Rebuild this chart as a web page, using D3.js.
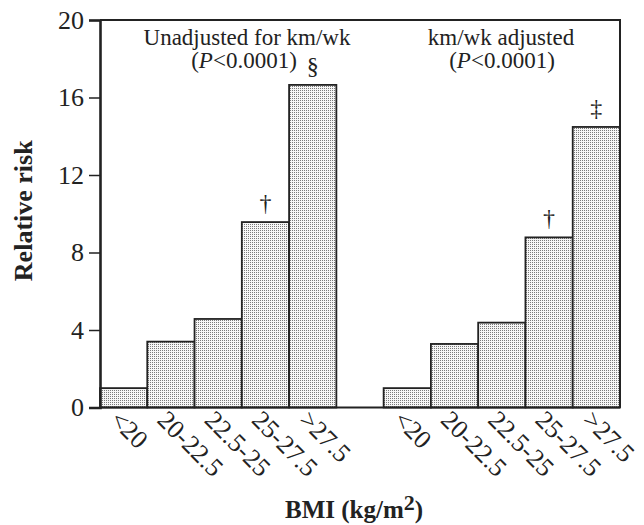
<!DOCTYPE html>
<html>
<head>
<meta charset="utf-8">
<script src="https://cdn.jsdelivr.net/npm/d3@7"></script>
<style>
  body { margin: 0; background: #fff; }
  svg text { font-family: "Liberation Serif", "Times New Roman", serif; fill: #222; }
</style>
</head>
<body>
<div id="chart"></div>
<script>
// BMI categories, shown twice (unadjusted / adjusted) with an empty slot between
const categories = ["<20", "20-22.5", "22.5-25", "25-27.5", ">27.5"];
const unadjusted = [1.0, 3.4, 4.57, 9.57, 16.65];
const adjusted = [1.0, 3.28, 4.38, 8.78, 14.48];
const unadjustedMarks = ["", "", "", "\u2020", "\u00a7"];
const adjustedMarks = ["", "", "", "\u2020", "\u2021"];
const yTicks = [0, 4, 8, 12, 16, 20];

const width = 644, height = 525;
const margin = { top: 20, right: 24, bottom: 117.5, left: 100 };

// one slot per bar plus the gap slot
const slots = [
    ...categories.map((c, i) => ({ key: "u" + i, label: c, value: unadjusted[i], mark: unadjustedMarks[i] })),
    { key: "gap", label: "", value: null, mark: "" },
    ...categories.map((c, i) => ({ key: "a" + i, label: c, value: adjusted[i], mark: adjustedMarks[i] }))
];

const svg = d3.select("#chart").append("svg")
    .attr("width", width)
    .attr("height", height);

const defs = svg.append("defs");
const pat = defs.append("pattern")
    .attr("id", "dots")
    .attr("width", 2).attr("height", 2)
    .attr("patternUnits", "userSpaceOnUse");
pat.append("rect").attr("width", 2).attr("height", 2).attr("fill", "#f6f6f6");
pat.append("rect").attr("width", 1).attr("height", 1).attr("fill", "#7a7a7a");

const x = d3.scaleBand()
    .domain(slots.map(d => d.key))
    .range([margin.left, width - margin.right])
    .padding(0);

const y = d3.scaleLinear()
    .domain([0, 20])
    .range([height - margin.bottom, margin.top]);

const bars = slots.filter(d => d.value !== null);

svg.append("g")
    .selectAll("rect")
    .data(bars)
    .enter()
    .append("rect")
    .attr("x", d => x(d.key))
    .attr("y", d => y(d.value))
    .attr("width", x.bandwidth())
    .attr("height", d => y(0) - y(d.value))
    .attr("fill", "url(#dots)")
    .attr("stroke", "#222")
    .attr("stroke-width", 1.8);

// frame: top and right
svg.append("path")
    .attr("d", `M${x.range()[0]},${y(20)}H${x.range()[1]}V${y(0)}`)
    .attr("fill", "none")
    .attr("stroke", "#222")
    .attr("stroke-width", 2);

// bottom line
svg.append("line")
    .attr("x1", x.range()[0]).attr("x2", x.range()[1])
    .attr("y1", y(0)).attr("y2", y(0))
    .attr("stroke", "#222")
    .attr("stroke-width", 2.2);

// y axis
const yAxis = svg.append("g")
    .attr("transform", `translate(${margin.left},0)`)
    .call(d3.axisLeft(y).tickValues(yTicks).tickSize(11).tickPadding(5));
yAxis.select(".domain").attr("stroke", "#222").attr("stroke-width", 2.6);
yAxis.selectAll(".tick line").attr("stroke", "#222").attr("stroke-width", 1.5);
yAxis.selectAll(".tick text")
    .attr("font-size", 26)
    .attr("font-family", "Liberation Serif, serif")
    .attr("fill", "#222");

// rotated category labels
svg.append("g")
    .selectAll("text")
    .data(bars)
    .enter()
    .append("text")
    .attr("transform", d => `translate(${x(d.key) + x.bandwidth() / 2 - 15},${y(0) + 14}) rotate(45)`)
    .attr("font-size", 26)
    .attr("text-anchor", "start")
    .text(d => d.label);

// significance marks
svg.append("g")
    .selectAll("text")
    .data(bars.filter(d => d.mark))
    .enter()
    .append("text")
    .attr("x", d => x(d.key) + x.bandwidth() / 2)
    .attr("y", d => y(d.value) - 11)
    .attr("text-anchor", "middle")
    .attr("font-size", 24)
    .attr("fill", "#111")
    .text(d => d.mark);

// group notes
const notes = [
    { cx: 247, lines: ["Unadjusted for km/wk"], px: 244 },
    { cx: 501, lines: ["km/wk adjusted"], px: 502 }
];
notes.forEach(n => {
    svg.append("text")
        .attr("x", n.cx).attr("y", 44.5)
        .attr("text-anchor", "middle")
        .attr("font-size", 23)
        .text(n.lines[0]);
    const t = svg.append("text")
        .attr("x", n.px).attr("y", 68)
        .attr("text-anchor", "middle")
        .attr("font-size", 23);
    t.append("tspan").text("(");
    t.append("tspan").attr("font-style", "italic").text("P");
    t.append("tspan").text("<0.0001)");
});

// axis titles
svg.append("text")
    .attr("transform", `translate(32,${(y(0) + y(20)) / 2 - 3}) rotate(-90)`)
    .attr("text-anchor", "middle")
    .attr("font-size", 26)
    .attr("font-weight", "bold")
    .text("Relative risk");

const xt = svg.append("text")
    .attr("x", 354).attr("y", 518)
    .attr("text-anchor", "middle")
    .attr("font-size", 25)
    .attr("font-weight", "bold");
xt.append("tspan").text("BMI (kg/m");
xt.append("tspan").attr("dy", -8).attr("font-size", 22).text("2");
xt.append("tspan").attr("dy", 8).text(")");
</script>
</body>
</html>
